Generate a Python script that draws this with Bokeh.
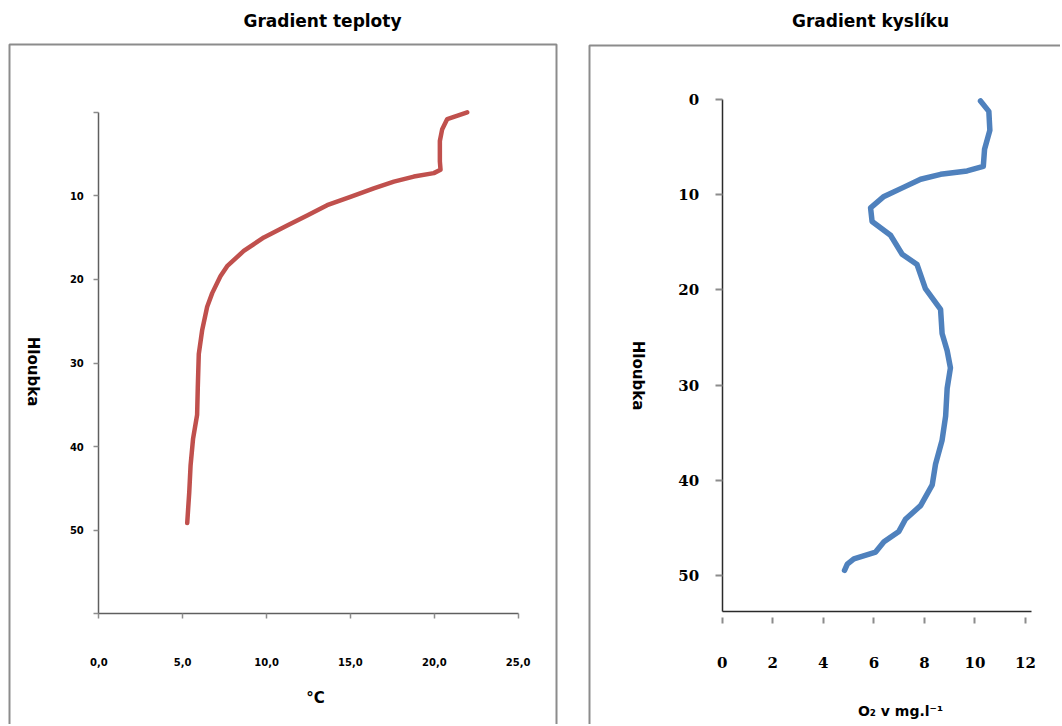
import math
from bokeh.plotting import figure
from bokeh.layouts import row
from bokeh.models import FixedTicker, Label, BoxAnnotation, Range1d, LinearAxis
from bokeh.embed import file_html
from bokeh.resources import INLINE

# ---- data: temperature profile ----
temp_c = [21.96, 20.77, 20.47, 20.33, 20.33, 20.37, 19.97, 18.78, 17.59, 16.39,
          15.0, 13.61, 12.42, 11.23, 9.84, 8.64, 7.65, 7.25, 6.76, 6.46,
          6.16, 5.96, 5.90, 5.86, 5.62, 5.47, 5.39, 5.27]
temp_depth = [0.0, 0.81, 2.02, 3.44, 5.87, 6.88, 7.28, 7.69, 8.29, 9.10,
              10.11, 11.12, 12.34, 13.55, 14.97, 16.59, 18.41, 19.62, 21.64, 23.26,
              26.09, 28.92, 32.97, 36.2, 39.04, 42.27, 45.5, 49.15]

# ---- data: oxygen profile ----
oxy_mg = [10.22, 10.55, 10.59, 10.38, 10.33, 9.69, 8.64, 7.85, 7.19, 6.40,
          5.87, 5.93, 6.66, 7.12, 7.71, 8.04, 8.64, 8.70, 8.90, 9.03,
          8.90, 8.84, 8.70, 8.44, 8.31, 7.85, 7.25, 6.99, 6.40, 6.07,
          5.21, 4.95, 4.84]
oxy_depth = [0.18, 1.27, 3.25, 5.24, 7.05, 7.52, 7.88, 8.39, 9.22, 10.2,
             11.39, 12.83, 14.28, 16.27, 17.35, 19.88, 22.05, 24.58, 26.39, 28.2,
             30.37, 33.26, 35.79, 38.32, 40.49, 42.66, 44.1, 45.37, 46.46, 47.54,
             48.26, 48.81, 49.46]

# ---- axes extents, ticks, labels ----
temp_axis = (0, 25)
temp_depth_axis = (0, 60)
oxy_axis = (0, 12.25)
oxy_depth_axis = (0, 53.8)

temp_xticks = [0, 5, 10, 15, 20, 25]
temp_xlabels = ["0,0", "5,0", "10,0", "15,0", "20,0", "25,0"]
temp_yticks = [0, 10, 20, 30, 40, 50, 60]
temp_ylabels = ["", "10", "20", "30", "40", "50", ""]
oxy_xticks = [0, 2, 4, 6, 8, 10, 12]
oxy_yticks = [0, 10, 20, 30, 40, 50]

title_left = "Gradient teploty"
title_right = "Gradient kyslíku"
xlabel_left = "°C"
xlabel_right = "O₂ v mg.l⁻¹"
ylabel = "Hloubka"

BOX = "#8c8c8c"
H = 724


def base_fig(w, xr, yr):
    p = figure(width=w, height=H, x_range=xr, y_range=yr,
               x_axis_location=None, y_axis_location=None,
               output_backend="svg", toolbar_location=None,
               min_border=0, min_border_left=0, min_border_right=0,
               min_border_top=0, min_border_bottom=0,
               background_fill_color="white", border_fill_color="white")
    p.grid.visible = False
    p.outline_line_color = None
    p.title.visible = False
    return p


def text_label(p, x, y, txt, size, angle=0.0, font="DejaVu Sans"):
    p.add_layout(Label(x=x, y=y, x_units="screen", y_units="screen", text=txt,
                       angle=angle, text_align="center", text_baseline="middle",
                       text_font=font, text_font_size=size,
                       text_font_style="bold", text_color="black"))


def frame_box(p, left, right, top):
    p.add_layout(BoxAnnotation(left=left, right=right, top=top, bottom=-20,
                               left_units="screen", right_units="screen",
                               top_units="screen", bottom_units="screen",
                               fill_color=None, fill_alpha=0,
                               line_color=BOX, line_alpha=1.0, line_width=2))


# ---------------- left chart (temperature) ----------------
# pixel geometry of the plot area: 0 degC at x=98.3, 25 degC at x=517.7,
# depth 0 at y=111.8, depth 60 at y=613.2 (canvas 572 x 724)
W1 = 572
kx1 = (517.7 - 98.3) / 25.0
ky1 = (613.2 - 111.8) / 60.0
p1 = base_fig(W1,
              Range1d(-98.3 / kx1, (W1 - 98.3) / kx1),
              Range1d((H - 111.8) / ky1, -111.8 / ky1))
p1.line(temp_c, temp_depth, line_color="#C0504D", line_width=4.5,
        line_join="round", line_cap="round")

xa = LinearAxis(fixed_location=temp_depth_axis[1], bounds=temp_axis,
                ticker=FixedTicker(ticks=temp_xticks))
xa.major_label_overrides = {t: l for t, l in zip(temp_xticks, temp_xlabels)}
xa.major_label_standoff = 39
ya = LinearAxis(fixed_location=temp_axis[0], bounds=temp_depth_axis,
                ticker=FixedTicker(ticks=temp_yticks))
ya.major_label_overrides = {t: l for t, l in zip(temp_yticks, temp_ylabels)}
ya.major_label_standoff = 10
for ax in (xa, ya):
    ax.major_label_text_font = "DejaVu Sans"
    ax.major_label_text_font_size = "10px"
    ax.major_label_text_font_style = "bold"
    ax.major_label_text_color = "black"
    ax.axis_line_color = "#5f5f5f"
    ax.axis_line_width = 1.5
    ax.major_tick_line_color = "#8c8c8c"
    ax.major_tick_line_width = 1.5
    ax.major_tick_out = 5
    ax.major_tick_in = 0
    ax.minor_tick_line_color = None
p1.add_layout(xa, "below")
p1.add_layout(ya, "left")

text_label(p1, 322, H - 20, title_left, "17px")
text_label(p1, 315, H - 697, xlabel_left, "15px")
text_label(p1, 32, H - 371, ylabel, "15px", angle=-math.pi / 2)
frame_box(p1, 9, 556, H - 44)

# ---------------- right chart (oxygen) ----------------
# canvas starts at x=572; 0 mg at x=721.7, 12 mg at x=1025,
# depth 0 at y=98.8, depth 50 at y=575
W2 = 488
X0 = 572
kx2 = (1025.0 - 721.7) / 12.0
ky2 = (575.0 - 98.8) / 50.0
p2 = base_fig(W2,
              Range1d(-(721.7 - X0) / kx2, (W2 - (721.7 - X0)) / kx2),
              Range1d((H - 98.8) / ky2, -98.8 / ky2))
p2.line(oxy_mg, oxy_depth, line_color="#4F81BD", line_width=5.5,
        line_join="round", line_cap="round")

xb = LinearAxis(fixed_location=oxy_depth_axis[1], bounds=oxy_axis,
                ticker=FixedTicker(ticks=oxy_xticks))
xb.major_tick_in = -6
xb.major_tick_out = 12
xb.major_label_standoff = 33
yb = LinearAxis(fixed_location=oxy_axis[0], bounds=oxy_depth_axis,
                ticker=FixedTicker(ticks=oxy_yticks))
yb.major_tick_in = 0
yb.major_tick_out = 7
yb.major_label_standoff = 16
for ax in (xb, yb):
    ax.major_label_text_font = "DejaVu Serif"
    ax.major_label_text_font_size = "15px"
    ax.major_label_text_font_style = "bold"
    ax.major_label_text_color = "black"
    ax.axis_line_color = "#2a2a2a"
    ax.axis_line_width = 1.5
    ax.major_tick_line_color = "#8c8c8c"
    ax.major_tick_line_width = 2
    ax.minor_tick_line_color = None
p2.add_layout(xb, "below")
p2.add_layout(yb, "left")

text_label(p2, 870 - X0, H - 20, title_right, "17px")
text_label(p2, 900 - X0, H - 710, xlabel_right, "14px")
text_label(p2, 637 - X0, H - 375, ylabel, "15px", angle=-math.pi / 2)
frame_box(p2, 589 - X0, W2 + 20, H - 45)

layout = row(p1, p2)
open("out.html", "w").write(file_html(layout, INLINE))
